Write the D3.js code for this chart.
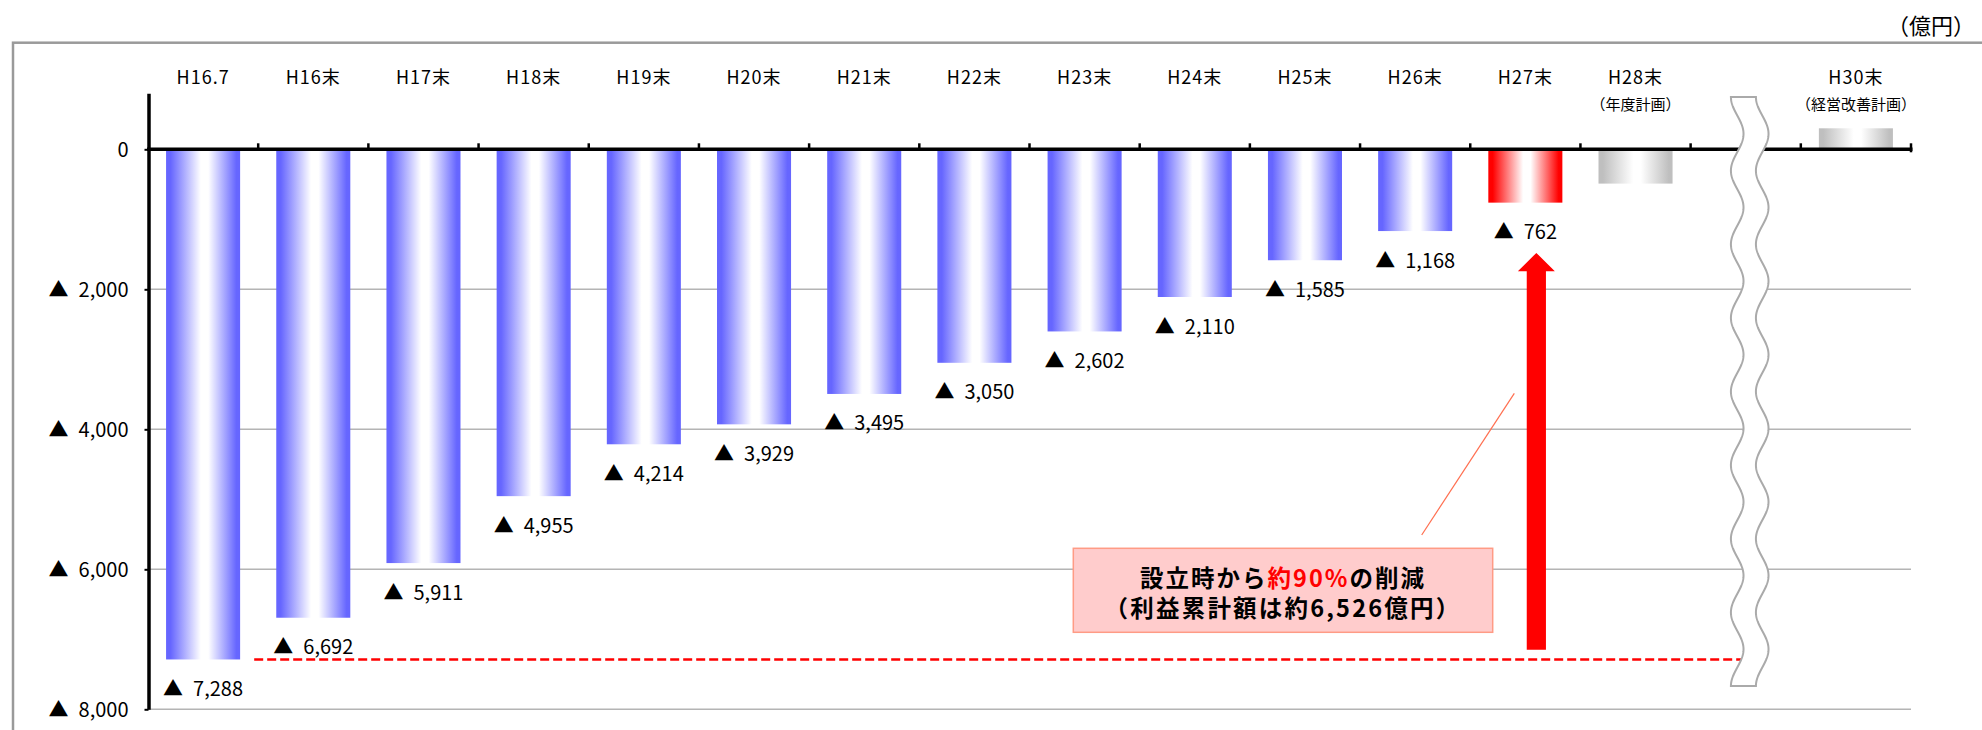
<!DOCTYPE html>
<html lang="ja">
<head>
<meta charset="utf-8">
<script src="https://cdn.jsdelivr.net/npm/d3@7"></script>
<style>
  html, body { margin: 0; padding: 0; background: #fff; }
  svg { display: block; font-family: 'Noto Sans CJK JP', 'Noto Sans', sans-serif; }
</style>
</head>
<body>
<svg id="chart" width="1982" height="730"></svg>
<script>
// Period labels (H = Heisei); the gap before H30末 is drawn as a break
const categories = ["H16.7", "H16末", "H17末", "H18末", "H19末", "H20末", "H21末",
  "H22末", "H23末", "H24末", "H25末", "H26末", "H27末", "H28末", "H30末"];
const subLabels = ["", "", "", "", "", "", "", "", "", "", "", "", "", "（年度計画）", "（経営改善計画）"];
// Accumulated loss (negative) in 100-million yen
const values = [-7288, -6692, -5911, -4955, -4214, -3929, -3495, -3050, -2602, -2110, -1585, -1168, -762, -490, 300];
const kinds = ["actual", "actual", "actual", "actual", "actual", "actual", "actual",
  "actual", "actual", "actual", "actual", "actual", "latest", "plan", "plan"];
const yTicks = [0, -2000, -4000, -6000, -8000];
const unitLabel = "（億円）";
const noteLine1 = [["設立時から", "#000"], ["約90%", "#ff0000"], ["の削減", "#000"]];
const noteLine2 = "（利益累計額は約6,526億円）";
const arrowRange = [-7150, -1480];

const BREAK = "__break__";
const slots = categories.slice(0, 14).concat([BREAK, categories[14]]);

const svg = d3.select("#chart");
const fmt = d3.format(",");
// negatives are written with a leading triangle, Japanese accounting style
const neg = v => v === 0 ? "0" : (v < 0 ? "▲\u2002" + fmt(-v) : fmt(v));

const x = d3.scaleBand().domain(slots).range([148, 1911]).paddingInner(0).paddingOuter(0);
const y = d3.scaleLinear().domain([-8000, 800]).range([709.3, 93.3]);
const bw = x.bandwidth();
const barW = bw * 0.672;
const barX = c => x(c) + (bw - barW) / 2;
const cx = c => x(c) + bw / 2;

// gradients: coloured edges fading to white in the middle
const defs = svg.append("defs");
const grads = {
  actual: "#6666ff",
  latest: "#ff0000",
  plan: "#bfbfbf"
};
Object.entries(grads).forEach(([k, col]) => {
  const g = defs.append("linearGradient").attr("id", "g-" + k)
    .attr("x1", "0%").attr("x2", "100%").attr("y1", "0%").attr("y2", "0%");
  [[0, col], [0.06, col], [0.47, "#ffffff"], [0.57, "#ffffff"], [0.95, col], [1, col]]
    .forEach(([o, c]) => g.append("stop").attr("offset", o).attr("stop-color", c));
});

// outer frame
svg.append("rect").attr("x", 13).attr("y", 42.7).attr("width", 2100).attr("height", 900)
  .attr("fill", "none").attr("stroke", "#9a9a9a").attr("stroke-width", 2.5);

// unit
svg.append("text").attr("x", 1975).attr("y", 24).attr("text-anchor", "end")
  .attr("dominant-baseline", "central").attr("font-size", 22).text(unitLabel);

// gridlines
svg.append("g").selectAll("line").data(yTicks.filter(d => d !== 0)).join("line")
  .attr("x1", x.range()[0]).attr("x2", x.range()[1])
  .attr("y1", d => y(d)).attr("y2", d => y(d))
  .attr("stroke", "#b4b4b4").attr("stroke-width", 1.5);

// bars
svg.append("g").selectAll("rect").data(categories).join("rect")
  .attr("x", d => barX(d))
  .attr("width", barW)
  .attr("y", (d, i) => Math.min(y(0), y(values[i])))
  .attr("height", (d, i) => Math.abs(y(values[i]) - y(0)))
  .attr("fill", (d, i) => `url(#g-${kinds[i]})`);

// reference line at the starting deficit
svg.append("line")
  .attr("x1", x(categories[1]) - 4).attr("x2", cx(BREAK))
  .attr("y1", y(values[0])).attr("y2", y(values[0]))
  .attr("stroke", "#ff0000").attr("stroke-width", 2.5).attr("stroke-dasharray", "9,4");

// y axis
const yAxis = d3.axisLeft(y).tickValues(yTicks).tickFormat(neg)
  .tickSize(4).tickSizeOuter(0).tickPadding(16);
const ya = svg.append("g").attr("transform", "translate(148.5,0)").call(yAxis);
ya.select(".domain").attr("stroke", "#000").attr("stroke-width", 3.5);
ya.selectAll(".tick line").attr("stroke", "#000").attr("stroke-width", 2);
ya.selectAll(".tick text").attr("font-size", 20).attr("fill", "#000")
  .attr("font-family", "'Noto Sans CJK JP', sans-serif").attr("dy", "0.36em");

// zero line with slot ticks
const y0 = y(0);
svg.append("line").attr("x1", 147).attr("x2", x.range()[1] + 1.5)
  .attr("y1", y0).attr("y2", y0).attr("stroke", "#000").attr("stroke-width", 3.5);
svg.append("g").selectAll("line").data(slots).join("line")
  .attr("x1", d => x(d) + bw).attr("x2", d => x(d) + bw)
  .attr("y1", y0 - 6).attr("y2", (d, i) => i === slots.length - 1 ? y0 + 3 : y0)
  .attr("stroke", "#000").attr("stroke-width", 2.5);

// category labels
const cat = svg.append("g");
cat.selectAll("text.main").data(categories).join("text").attr("class", "main")
  .attr("x", d => cx(d)).attr("y", 75.5)
  .attr("text-anchor", "middle").attr("dominant-baseline", "central")
  .attr("font-size", 18).attr("letter-spacing", 1).text(d => d);
cat.selectAll("text.sub").data(categories.filter((d, i) => subLabels[i])).join("text")
  .attr("class", "sub")
  .attr("x", d => cx(d)).attr("y", 103.5)
  .attr("text-anchor", "middle").attr("dominant-baseline", "central")
  .attr("font-size", 15).text(d => subLabels[categories.indexOf(d)]);

// value labels under the results
svg.append("g").selectAll("text").data(categories.filter((d, i) => kinds[i] !== "plan")).join("text")
  .attr("x", d => cx(d))
  .attr("y", d => y(values[categories.indexOf(d)]) + 28)
  .attr("text-anchor", "middle").attr("dominant-baseline", "central")
  .attr("font-size", 20).text(d => neg(values[categories.indexOf(d)]));

// axis break: white strip with wavy grey edges
(function () {
  const mid = cx(BREAK) + 4;
  const top = 97, bot = 686, periods = 8, amp = 6.3, half = 12.5;
  const P = (bot - top) / periods;
  const edge = (yy, off) => [mid + off - amp * Math.cos(2 * Math.PI * (yy - top) / P), yy];
  const left = d3.range(top, bot + 0.01, 1).map(yy => edge(yy, -half));
  const right = d3.range(bot, top - 0.01, -1).map(yy => edge(yy, half));
  svg.append("path")
    .attr("d", d3.line()(left.concat(right)) + "Z")
    .attr("fill", "#fff").attr("stroke", "#aaaaaa").attr("stroke-width", 2);
})();

// improvement arrow
(function () {
  const ax = cx(categories[12]) + 11;
  const yb = y(arrowRange[0]), yt = y(arrowRange[1]);
  const sw = 9.6, hw = 18.5, hl = 18.4;
  const pts = [[ax - sw, yb], [ax - sw, yt + hl], [ax - hw, yt + hl], [ax, yt],
    [ax + hw, yt + hl], [ax + sw, yt + hl], [ax + sw, yb]];
  svg.append("path").attr("d", d3.line()(pts) + "Z").attr("fill", "#ff0000");
})();

// callout
svg.append("line").attr("x1", 1514.3).attr("y1", 393.3).attr("x2", 1421.7).attr("y2", 535)
  .attr("stroke", "#ff6f50").attr("stroke-width", 1.2);
svg.append("rect").attr("x", 1073.3).attr("y", 548.3).attr("width", 419.4).attr("height", 84)
  .attr("fill", "#ffcccc").attr("stroke", "#ff9b85").attr("stroke-width", 1.5);
const t1 = svg.append("text").attr("x", 1283).attr("y", 576.5).attr("text-anchor", "middle")
  .attr("dominant-baseline", "central").attr("font-size", 23.5).attr("letter-spacing", 2)
  .attr("font-weight", "bold");
noteLine1.forEach(([s, c]) => t1.append("tspan").attr("fill", c).text(s));
svg.append("text").attr("x", 1283).attr("y", 607).attr("text-anchor", "middle")
  .attr("dominant-baseline", "central").attr("font-size", 23.5).attr("letter-spacing", 2.2)
  .attr("font-weight", "bold")
  .text(noteLine2);
</script>
</body>
</html>
